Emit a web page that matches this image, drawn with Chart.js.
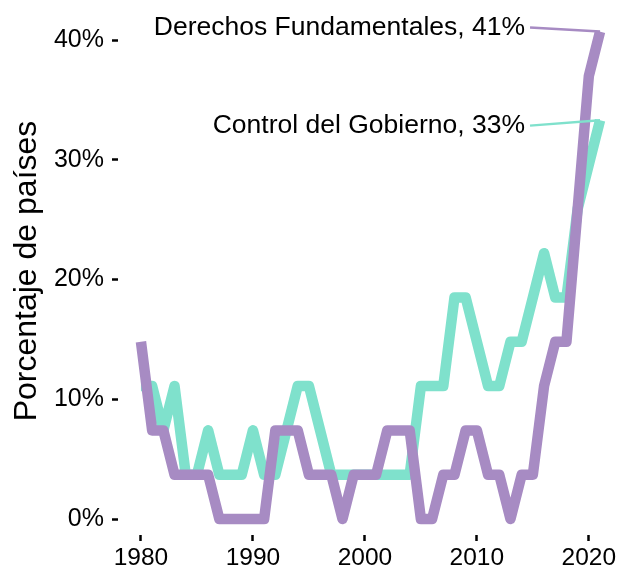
<!DOCTYPE html>
<html><head><meta charset="utf-8">
<script src="https://cdn.jsdelivr.net/npm/chart.js@4/dist/chart.umd.min.js"></script>
<style>html,body{margin:0;padding:0;background:#fff;}#wrap{width:627px;height:581px;}</style>
</head><body><div id="wrap"><canvas id="c" width="627" height="581"></canvas></div>
<script>
const years = [1980,1981,1982,1983,1984,1985,1986,1987,1988,1989,1990,1991,1992,1993,1994,1995,1996,1997,1998,1999,2000,2001,2002,2003,2004,2005,2006,2007,2008,2009,2010,2011,2012,2013,2014,2015,2016,2017,2018,2019,2020,2021];
const derechosFundamentales = [14.8,7.4,7.4,3.7,3.7,3.7,3.7,0,0,0,0,0,7.4,7.4,7.4,3.7,3.7,3.7,0,3.7,3.7,3.7,7.4,7.4,7.4,0,0,3.7,3.7,7.4,7.4,3.7,3.7,0,3.7,3.7,11.1,14.8,14.8,25.9,37.0,40.7];
const controlGobierno = [11.1,11.1,7.4,11.1,3.7,3.7,7.4,3.7,3.7,3.7,7.4,3.7,3.7,7.4,11.1,11.1,7.4,3.7,3.7,3.7,3.7,3.7,3.7,3.7,3.7,11.1,11.1,11.1,18.5,18.5,14.8,11.1,11.1,14.8,14.8,18.5,22.2,18.5,18.5,25.9,29.6,33.3];
const seriesNames = ['Derechos Fundamentales','Control del Gobierno'];
const endLabels = ['Derechos Fundamentales, 41%','Control del Gobierno, 33%'];
const xTicks = [1980,1990,2000,2010,2020];
const yTicks = [0,10,20,30,40];

const FONT = '"Liberation Sans", Arial, Helvetica, sans-serif';
const colors = ['#A78BC3','#7FE1CC'];
const labelAnchors = [{x:2014.3,y:41.05},{x:2014.3,y:32.85}];

const toPoints = vals => years.map((yr,i)=>({x:yr,y:vals[i]}));

const endLabelPlugin = {
  id:'endLabels',
  afterDatasetsDraw(chart){
    const {ctx, scales:{x,y}} = chart;
    ctx.save();
    ctx.font = '26.5px ' + FONT;
    ctx.textAlign = 'right';
    ctx.textBaseline = 'middle';
    labelAnchors.forEach((a,i)=>{
      const ds = chart.data.datasets[i];
      const last = ds.data[ds.data.length-1];
      const px = x.getPixelForValue(last.x), py = y.getPixelForValue(last.y);
      const tx = x.getPixelForValue(a.x), ty = y.getPixelForValue(a.y);
      ctx.strokeStyle = ds.borderColor;
      ctx.lineWidth = 2.5;
      ctx.beginPath(); ctx.moveTo(tx+5, ty); ctx.lineTo(px, py); ctx.stroke();
      ctx.fillStyle = '#000';
      ctx.fillText(endLabels[i], tx, ty);
    });
    ctx.restore();
  }
};

const gridOpts = {display:true, drawOnChartArea:false, drawTicks:true, tickLength:6, tickWidth:2.5, tickColor:'#000'};

new Chart(document.getElementById('c'), {
  type:'line',
  data:{datasets:[
    {label:seriesNames[0], data:toPoints(derechosFundamentales), borderColor:colors[0], borderWidth:10.5, pointRadius:0, tension:0, borderJoinStyle:'round', borderCapStyle:'butt', fill:false},
    {label:seriesNames[1], data:toPoints(controlGobierno), borderColor:colors[1], borderWidth:10.5, pointRadius:0, tension:0, borderJoinStyle:'round', borderCapStyle:'butt', fill:false}
  ]},
  options:{
    responsive:false, animation:false, devicePixelRatio:1,
    layout:{padding:{top:7,left:0,right:4,bottom:0}},
    plugins:{legend:{display:false}, tooltip:{enabled:false}},
    scales:{
      x:{type:'linear', min:1977.95, max:2023.05,
        afterBuildTicks:s=>{s.ticks = xTicks.map(v=>({value:v}));},
        afterFit:s=>{s.height = 46; s.paddingLeft = 0; s.paddingRight = 0;},
        grid:gridOpts, border:{display:false},
        ticks:{callback:v=>String(v), font:{size:24.5,family:FONT}, color:'#000', padding:3, maxRotation:0, autoSkip:false}
      },
      y:{type:'linear', min:-1.336, max:42.756,
        afterBuildTicks:s=>{s.ticks = yTicks.map(v=>({value:v}));},
        afterFit:s=>{s.width = 118; s.paddingTop = 0; s.paddingBottom = 0;},
        grid:gridOpts, border:{display:false},
        ticks:{callback:v=>v+'%', font:{size:25,family:FONT}, color:'#000', padding:8},
        title:{display:true, text:'Porcentaje de países', font:{size:32,family:FONT}, color:'#000', padding:{top:8,bottom:0}}
      }
    }
  },
  plugins:[endLabelPlugin]
});
</script></body></html>
